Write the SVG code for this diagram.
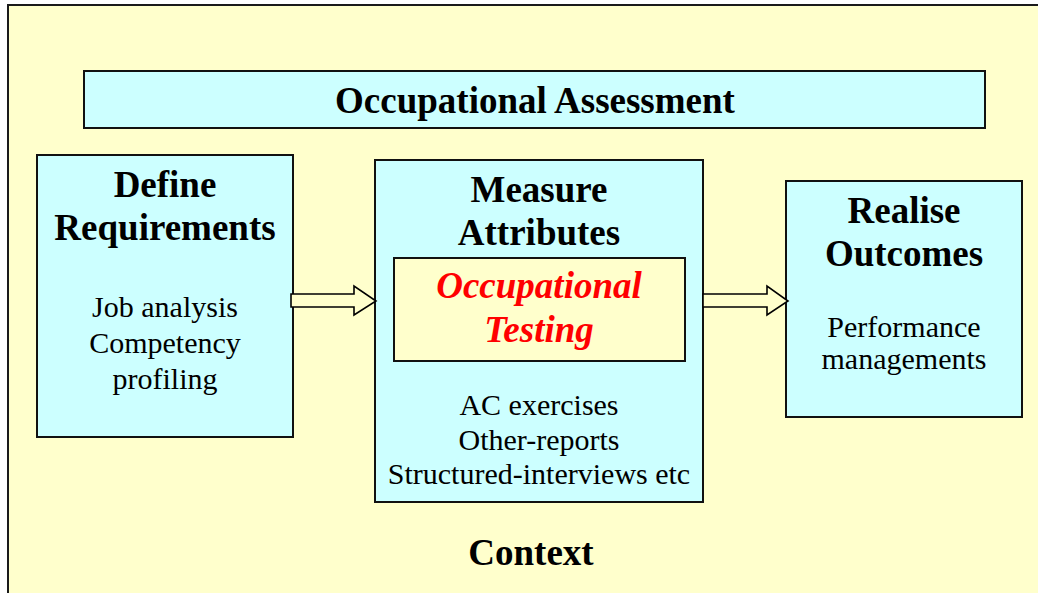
<svg xmlns="http://www.w3.org/2000/svg" width="1038" height="593" viewBox="0 0 1038 593">
  <defs>
    <style>
      .frame { fill: #FFFFCC; stroke: #1a1a1a; stroke-width: 2; }
      .box { fill: #CCFFFF; stroke: #111; stroke-width: 2; }
      .inner { fill: #FFFFCC; stroke: #111; stroke-width: 2; }
      .arrow { fill: #FFFFCC; stroke: #000; stroke-width: 1.6; stroke-linejoin: miter; }
      .head { font-family: "Liberation Serif", "Times New Roman", serif; font-weight: bold; font-size: 37px; fill: #000; text-anchor: middle; }
      .body { font-family: "Liberation Serif", "Times New Roman", serif; font-size: 30px; fill: #000; text-anchor: middle; }
      .focus { font-family: "Liberation Serif", "Times New Roman", serif; font-weight: bold; font-style: italic; font-size: 37px; fill: #FF0000; text-anchor: middle; }
    </style>
  </defs>

  <!-- white page and the yellow context panel -->
  <rect x="0" y="0" width="1038" height="593" fill="#FFFFFF"/>
  <rect class="frame" x="8" y="5" width="1040" height="600"/>

  <g id="banner">
    <rect class="box" x="84" y="71" width="901" height="57"/>
    <text class="head" x="535" y="113">Occupational Assessment</text>
  </g>

  <g id="define">
    <rect class="box" x="37" y="155" width="256" height="282"/>
    <text class="head" x="165" y="197">Define</text>
    <text class="head" x="165" y="240">Requirements</text>
    <text class="body" x="165" y="317">Job analysis</text>
    <text class="body" x="165" y="353">Competency</text>
    <text class="body" x="165" y="389">profiling</text>
  </g>

  <g id="measure">
    <rect class="box" x="375" y="160" width="328" height="342"/>
    <text class="head" x="539" y="202">Measure</text>
    <text class="head" x="539" y="245">Attributes</text>
    <text class="body" x="539" y="415">AC exercises</text>
    <text class="body" x="539" y="450">Other-reports</text>
    <text class="body" x="539" y="484">Structured-interviews etc</text>
  </g>

  <g id="testing">
    <rect class="inner" x="394" y="258" width="291" height="103"/>
    <text class="focus" x="539" y="298">Occupational</text>
    <text class="focus" x="539" y="342">Testing</text>
  </g>

  <g id="realise">
    <rect class="box" x="786" y="181" width="236" height="236"/>
    <text class="head" x="904" y="223">Realise</text>
    <text class="head" x="904" y="266">Outcomes</text>
    <text class="body" x="904" y="337">Performance</text>
    <text class="body" x="904" y="369">managements</text>
  </g>

  <g id="connectors">
    <polygon class="arrow" points="291,294 354,294 354,286 376,301 354,315 354,307 291,307"/>
    <polygon class="arrow" points="703,294 767,294 767,286 788,301 767,315 767,307 703,307"/>
  </g>

  <g id="context">
    <text class="head" x="531" y="565">Context</text>
  </g>
</svg>
